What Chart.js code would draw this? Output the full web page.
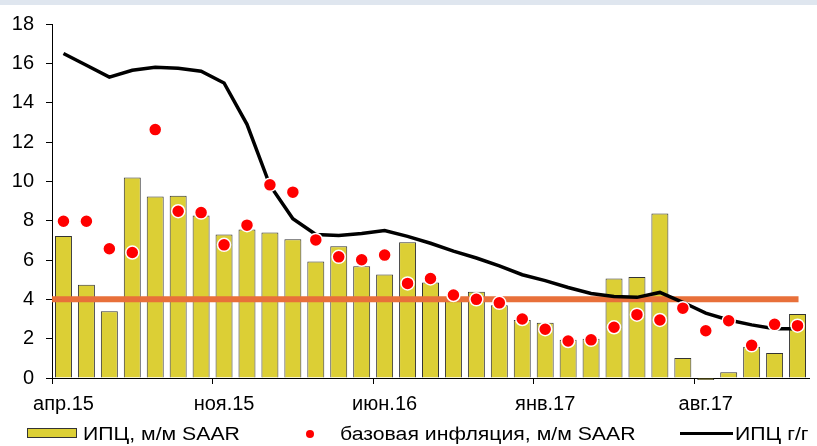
<!DOCTYPE html>
<html lang="ru">
<head>
<meta charset="utf-8">
<title>ИПЦ и базовая инфляция</title>
<script src="https://cdn.jsdelivr.net/npm/chart.js@4.4.1/dist/chart.umd.min.js"></script>
<style>
    body { margin: 0; background: #fff; font-family: "Liberation Sans", Arial, sans-serif; }
    .wrap { position: relative; width: 817px; height: 446px; overflow: hidden; }
    .top-band { position: absolute; left: 0; top: 0; width: 817px; height: 5px; background: #dfe6ef; }
    #cpi-chart { position: absolute; left: 0; top: 0; }
    .legend-text { position: absolute; top: 425px; font-size: 18px; line-height: 18px; color: #000;
                   white-space: nowrap; transform: scaleX(1.18); transform-origin: left center; }
    .legend-bar { position: absolute; left: 27px; top: 428px; width: 50px; height: 10px;
                  box-sizing: border-box; background: #dccf35; border: 1px solid #333; }
    .legend-dot { position: absolute; left: 306px; top: 430px; width: 8px; height: 8px;
                  border-radius: 50%; background: #ff0000; }
    .legend-line { position: absolute; left: 680px; top: 432px; width: 53px; height: 3px; background: #000; }
</style>
</head>
<body>
<div class="wrap">
    <div class="top-band"></div>
    <canvas id="cpi-chart" width="817" height="446"></canvas>
    <div class="legend-bar"></div>
    <div class="legend-text" style="left:83px">ИПЦ, м/м SAAR</div>
    <div class="legend-dot"></div>
    <div class="legend-text" style="left:340px">базовая инфляция, м/м SAAR</div>
    <div class="legend-line"></div>
    <div class="legend-text" style="left:735px">ИПЦ г/г</div>
</div>
<script>
// Months, apr.15 .. dec.17
const months = [
    'апр.15', 'май.15', 'июн.15', 'июл.15', 'авг.15', 'сен.15', 'окт.15', 'ноя.15', 'дек.15',
    'янв.16', 'фев.16', 'мар.16', 'апр.16', 'май.16', 'июн.16', 'июл.16', 'авг.16', 'сен.16',
    'окт.16', 'ноя.16', 'дек.16', 'янв.17', 'фев.17', 'мар.17', 'апр.17', 'май.17', 'июн.17',
    'июл.17', 'авг.17', 'сен.17', 'окт.17', 'ноя.17', 'дек.17'
];

// CPI, m/m SAAR (bars)
const cpiMoM = [
    7.22, 4.74, 3.40, 10.2, 9.23, 9.27, 8.26, 7.30, 7.55, 7.40, 7.05, 5.93, 6.70, 5.68, 5.26, 6.90,
    4.86, 4.0, 4.39, 3.70, 2.95, 2.81, 1.94, 1.99, 5.06, 5.13, 8.36, 1.02, -0.1, 0.29, 1.59, 1.27, 3.25
];

// Core inflation, m/m SAAR (dots)
const coreMoM = [
    7.97, 7.97, 6.57, 6.38, 12.63, 8.48, 8.41, 6.77, 7.77, 9.82, 9.45, 7.02, 6.16, 6.01, 6.25, 4.81,
    5.06, 4.22, 4.0, 3.82, 3.0, 2.48, 1.88, 1.94, 2.58, 3.22, 2.95, 3.55, 2.40, 2.91, 1.66, 2.73, 2.66
];

// CPI, y/y (line)
const cpiYoY = [
    16.5, 15.9, 15.3, 15.65, 15.8, 15.75, 15.6, 15.0, 12.9, 9.8, 8.1, 7.3, 7.25, 7.35, 7.5, 7.2,
    6.85, 6.45, 6.1, 5.7, 5.25, 4.95, 4.6, 4.3, 4.15, 4.1, 4.35, 3.85, 3.3, 2.95, 2.7, 2.5, 2.5
];

const inflationTarget = 4;
const yTicks = [0, 2, 4, 6, 8, 10, 12, 14, 16, 18];

const tickFont = { family: '"Liberation Sans", Arial, sans-serif', size: 20 };

// Orange target line, drawn right after the bars so lines and dots sit on top
const targetLine = {
    id: 'targetLine',
    afterDatasetDraw(chart, args) {
        if (args.index !== 0) return;
        const { ctx, chartArea, scales } = chart;
        const y = scales.y.getPixelForValue(inflationTarget);
        const xEnd = scales.x.getPixelForValue(months.length - 1) + 1;
        ctx.save();
        ctx.strokeStyle = '#e8703a';
        ctx.lineWidth = 6;
        ctx.beginPath();
        ctx.moveTo(chartArea.left, y);
        ctx.lineTo(xEnd, y);
        ctx.stroke();
        ctx.restore();
    }
};

const cpiChart = new Chart(document.getElementById('cpi-chart'), {
    type: 'bar',
    data: {
        labels: months,
        datasets: [
            {
                type: 'bar',
                label: 'ИПЦ, м/м SAAR',
                data: cpiMoM,
                backgroundColor: '#dccf35',
                borderColor: '#333',
                borderWidth: 1,
                barPercentage: 0.74,
                categoryPercentage: 1,
                clip: false,
                order: 3
            },
            {
                type: 'line',
                label: 'ИПЦ г/г',
                data: cpiYoY,
                borderColor: '#000',
                borderWidth: 3.5,
                tension: 0,
                pointRadius: 0,
                fill: false,
                order: 2
            },
            {
                type: 'line',
                label: 'базовая инфляция, м/м SAAR',
                data: coreMoM,
                showLine: false,
                pointRadius: 6.5,
                pointBackgroundColor: '#ff0000',
                pointBorderColor: '#fff',
                pointBorderWidth: 1.5,
                clip: false,
                order: 1
            }
        ]
    },
    options: {
        responsive: false,
        animation: false,
        layout: {
            padding: { left: 0, right: 2, top: 19, bottom: 28 }
        },
        plugins: {
            legend: { display: false },
            tooltip: { enabled: false }
        },
        scales: {
            x: {
                offset: true,
                grid: {
                    offset: true,
                    drawOnChartArea: false,
                    tickLength: 6,
                    color: (ctx) => ctx.index % 7 === 0 ? '#000' : 'rgba(0,0,0,0)'
                },
                border: { color: '#000', width: 1 },
                ticks: {
                    autoSkip: false,
                    maxRotation: 0,
                    minRotation: 0,
                    padding: 8,
                    color: '#000',
                    font: tickFont,
                    callback: (value, index) => index % 7 === 0 ? months[index] : ''
                },
                afterFit: (scale) => { scale.height = 40; }
            },
            y: {
                min: yTicks[0],
                max: yTicks[yTicks.length - 1],
                grid: {
                    drawOnChartArea: false,
                    tickLength: 6,
                    color: '#000'
                },
                border: { color: '#000', width: 1 },
                ticks: {
                    stepSize: 2,
                    padding: 12,
                    color: '#000',
                    font: tickFont
                },
                afterFit: (scale) => { scale.width = 52; }
            }
        }
    },
    plugins: [targetLine]
});
</script>
</body>
</html>
